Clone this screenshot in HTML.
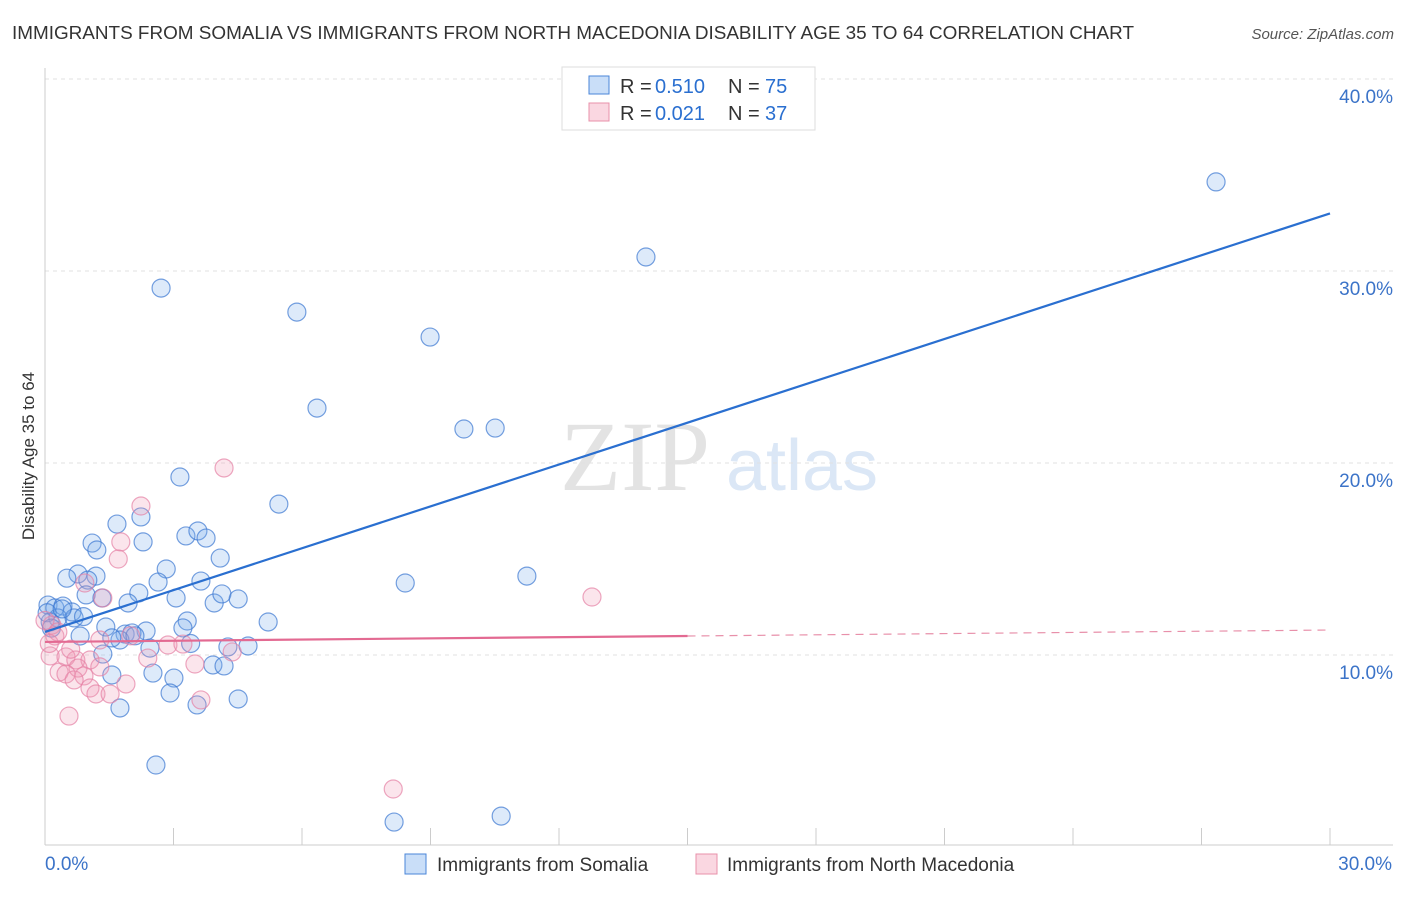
<!DOCTYPE html><html><head><meta charset="utf-8"><style>
body{margin:0;background:#fff;font-family:"Liberation Sans",sans-serif}
</style></head><body>
<svg width="1406" height="892" xmlns="http://www.w3.org/2000/svg" font-family="Liberation Sans, sans-serif">
<text x="12" y="39" font-size="18.9" fill="#333" textLength="1122" lengthAdjust="spacingAndGlyphs">IMMIGRANTS FROM SOMALIA VS IMMIGRANTS FROM NORTH MACEDONIA DISABILITY AGE 35 TO 64 CORRELATION CHART</text>
<text x="1394" y="39" font-size="15" fill="#555" font-style="italic" text-anchor="end">Source: ZipAtlas.com</text>
<text x="635" y="490" font-size="100" fill="#e3e3e3" font-family="Liberation Serif, serif" text-anchor="middle">ZIP</text>
<text x="802" y="490" font-size="72" fill="#dbe7f6" text-anchor="middle">atlas</text>
<g id="grid"></g><g id="axes"></g><g id="pts"></g><g id="lines"></g>
<text transform="translate(34,456) rotate(-90)" font-size="17" fill="#333" text-anchor="middle">Disability Age 35 to 64</text>
<g>
<rect x="562" y="67" width="253" height="63" fill="#fff" stroke="#ddd"/>
<rect x="589" y="76" width="20" height="18" fill="rgba(100,160,235,0.35)" stroke="#4a86d8"/>
<rect x="589" y="103" width="20" height="18" fill="rgba(240,140,170,0.35)" stroke="#e890aa"/>
<text x="620" y="93" font-size="20" fill="#333">R =</text><text x="655" y="93" font-size="20" fill="#2a6fd0">0.510</text>
<text x="728" y="93" font-size="20" fill="#333">N =</text><text x="765" y="93" font-size="20" fill="#2a6fd0">75</text>
<text x="620" y="120" font-size="20" fill="#333">R =</text><text x="655" y="120" font-size="20" fill="#2a6fd0">0.021</text>
<text x="728" y="120" font-size="20" fill="#333">N =</text><text x="765" y="120" font-size="20" fill="#2a6fd0">37</text>
</g>
<g>
<rect x="405" y="854" width="21" height="20" fill="rgba(100,160,235,0.35)" stroke="#4a86d8"/>
<text x="437" y="871" font-size="19" fill="#333">Immigrants from Somalia</text>
<rect x="696" y="854" width="21" height="20" fill="rgba(240,140,170,0.35)" stroke="#e890aa"/>
<text x="727" y="871" font-size="19" fill="#333">Immigrants from North Macedonia</text>
</g>
</svg>
<script>
const yTicks=[10,20,30,40];
const yTickLabels=["10.0%","20.0%","30.0%","40.0%"];
const xTickLabels=["0.0%","30.0%"];
const blueX=[27.34,14.03,2.71,5.88,8.99,6.35,9.78,10.51,3.15,5.46,2.24,1.68,2.29,1.10,3.29,3.57,3.76,1.21,4.09,2.83,0.77,1.19,1.00,2.64,3.64,8.41,11.25,0.96,2.19,3.06,1.33,1.94,3.95,4.13,4.51,5.21,0.07,0.23,0.42,0.63,0.30,0.68,0.12,3.32,3.22,1.42,2.36,1.87,2.03,1.75,1.56,0.82,2.45,4.27,4.74,1.35,3.92,4.18,2.52,1.56,3.01,2.92,4.51,3.55,1.75,2.59,8.15,10.65,0.51,0.05,0.15,0.9,2.1,3.4,0.4];
const blueY=[34.64,30.73,29.11,27.86,26.56,22.86,21.77,21.82,19.27,17.86,17.19,16.82,15.89,15.83,16.2,16.46,16.09,15.47,15.05,14.48,14.22,14.11,13.9,13.8,13.85,13.75,14.11,13.13,13.23,12.97,12.97,12.71,12.71,13.18,12.92,11.72,12.6,12.45,12.55,12.24,11.93,11.93,11.72,11.77,11.41,11.46,11.25,11.09,11.15,10.78,10.89,10.99,10.36,10.42,10.47,10.05,9.48,9.43,9.06,8.96,8.8,8.02,7.71,7.4,7.24,4.27,1.30,1.61,14.0,12.2,11.4,12.0,11.0,10.6,12.4];
const pinkX=[4.18,2.24,1.77,1.71,1.35,12.77,0.93,0.16,0.23,1.28,2.87,3.22,4.37,0.12,0.49,0.72,1.05,0.77,2.40,1.28,3.50,0.33,0.49,0.91,0.68,1.89,1.05,1.19,1.52,3.64,0.56,8.13,0.0,0.3,0.6,2.0,0.1];
const pinkY=[19.74,17.76,15.89,15.0,12.97,13.02,13.75,11.56,10.99,10.78,10.52,10.57,10.16,9.95,9.9,9.74,9.74,9.32,9.84,9.38,9.53,9.11,9.01,8.91,8.7,8.49,8.28,7.97,7.97,7.66,6.82,3.02,11.8,11.2,10.3,11.0,10.6];
const blueTrend=[11.2,33.0];
const pinkTrend=[10.68,11.3];
const NS="http://www.w3.org/2000/svg";
const xs=v=>45+v*(1285/30);
const ys=v=>655-(v-10)*19.2;
function mk(tag,attrs,parent){const e=document.createElementNS(NS,tag);for(const k in attrs)e.setAttribute(k,attrs[k]);document.getElementById(parent).appendChild(e);return e;}
yTicks.forEach((t,i)=>{
 const g=mk('line',{x1:45,x2:1393,y1:ys(t),y2:ys(t),stroke:'#e2e2e2','stroke-dasharray':'4,4'},'grid');
 
 
 const l=mk('text',{x:1393,y:ys(t)+24,'font-size':19,fill:'#3b73c8','text-anchor':'end'},'grid');
 l.textContent=yTickLabels[i];
 
 
});
const ax=mk('line',{x1:45,x2:1393,y1:845,y2:845,stroke:'#ccc'},'axes');


const ay=mk('line',{x1:45,x2:45,y1:68,y2:845,stroke:'#ccc'},'axes');


for(let i=0;i<=10;i++){const t=mk('line',{x1:xs(i*3),x2:xs(i*3),y1:828,y2:845,stroke:'#ccc'},'axes');
 
 }
[[0,'start'],[30,'end']].forEach((p,i)=>{const t=mk('text',{x:xs(p[0])+(i?62:0),y:870,'font-size':19,fill:'#3b73c8','text-anchor':p[1]},'axes');
 t.textContent=xTickLabels[i];
 
 });
blueX.forEach((x,i)=>{const c=mk('circle',{cx:xs(x),cy:ys(blueY[i]),r:9,fill:'rgba(120,170,235,0.25)',stroke:'rgba(60,120,210,0.7)','stroke-width':1.2},'pts');
 
 });
pinkX.forEach((x,i)=>{const c=mk('circle',{cx:xs(x),cy:ys(pinkY[i]),r:9,fill:'rgba(240,150,180,0.25)',stroke:'rgba(230,130,165,0.7)','stroke-width':1.2},'pts');
 
 });
const bl=mk('line',{x1:xs(0),y1:ys(blueTrend[0]),x2:xs(30),y2:ys(blueTrend[1]),stroke:'#2a6fd0','stroke-width':2.2},'lines');


const pm=pinkTrend[0]+(pinkTrend[1]-pinkTrend[0])*15/30;
const pl=mk('line',{x1:xs(0),y1:ys(pinkTrend[0]),x2:xs(15),y2:ys(pm),stroke:'#e36a92','stroke-width':2.2},'lines');


const pd=mk('line',{x1:xs(15),y1:ys(pm),x2:xs(30),y2:ys(pinkTrend[1]),stroke:'#e890aa','stroke-width':1.2,'stroke-dasharray':'8,6'},'lines');


</script>
</body></html>
